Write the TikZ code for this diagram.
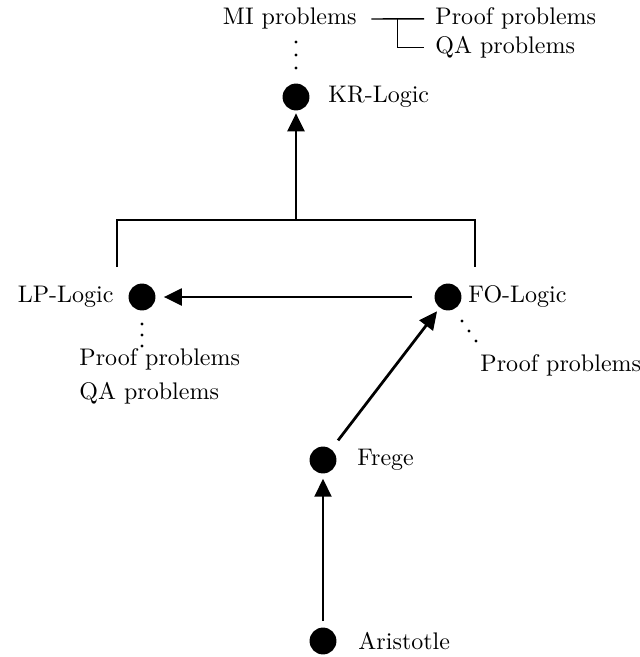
\documentclass[tikz,border=0pt]{standalone}
\usetikzlibrary{arrows.meta,calc}
\begin{document}
\begin{tikzpicture}[x=0.4167pt,y=-0.4167pt,
  dot/.style={circle,fill=black,inner sep=0pt,minimum size=11.2pt},
  lab/.style={inner sep=0pt},
  arr/.style={line width=1.15pt,-{Triangle[length=7.5pt,width=7pt]}},
  brk/.style={line width=1pt},
  thinln/.style={line width=0.6pt},
  sdot/.style={fill=black}]
\useasboundingbox (0,0) rectangle (639,657);
% main nodes
\node[dot] (kr) at (296,97) {};
\node[lab,anchor=west] (krl) at (328,97) {KR-Logic};
\node[dot] (lp) at (142,297) {};
\node[lab,anchor=east] (lpl) at (114,297) {LP-Logic};
\node[dot] (fo) at (448,297) {};
\node[lab,anchor=west] (fol) at (468,297) {FO-Logic};
\node[dot] (fr) at (323,460) {};
\node[lab,anchor=west] (frl) at (357,460) {Frege};
\node[dot] (ar) at (323,641) {};
\node[lab,anchor=west] (arl) at (358,641) {Aristotle};
% top problem texts
\node[lab,anchor=base east] (mi) at (357,25) {MI problems};
\node[lab,anchor=base west] (pp1) at (435,25) {Proof problems};
\node[lab,anchor=base west] (qa1) at (435,54) {QA problems};
\draw[thinln] ([xshift=6pt]mi.east) -- ([xshift=-4.5pt]pp1.west);
\draw[thinln] ($(mi.east)!0.52!(pp1.west)$) |- ([xshift=-4.5pt]qa1.west);
\foreach \yy in {42,55,68} \fill[sdot] (296,\yy) circle (0.7pt);
% LP problems
\node[lab,anchor=base west] (pp2) at (79,365) {Proof problems};
\node[lab,anchor=base west] (qa2) at (79,399) {QA problems};
\foreach \yy in {324,335,346} \fill[sdot] (142,\yy) circle (0.7pt);
% FO problems
\node[lab,anchor=base west] (pp3) at (480,371) {Proof problems};
\fill[sdot] (462,321) circle (0.7pt);
\fill[sdot] (469,331) circle (0.7pt);
\fill[sdot] (476,341) circle (0.7pt);
% bracket
\coordinate (bl) at (117,267);
\coordinate (br) at (475,267);
\coordinate (bt) at (296,220);
\draw[brk] (bl) |- (bt) -| (br);
% arrows
\draw[arr,shorten >=1pt] (bt) -- (kr);
\draw[arr,shorten <=9pt,shorten >=3.3pt] (fo) -- (lp);
\draw[arr,shorten <=4.5pt,shorten >=1.7pt] (fr) -- (fo);
\draw[arr,shorten <=2.5pt,shorten >=2pt] (ar) -- (fr);
\end{tikzpicture}
\end{document}
